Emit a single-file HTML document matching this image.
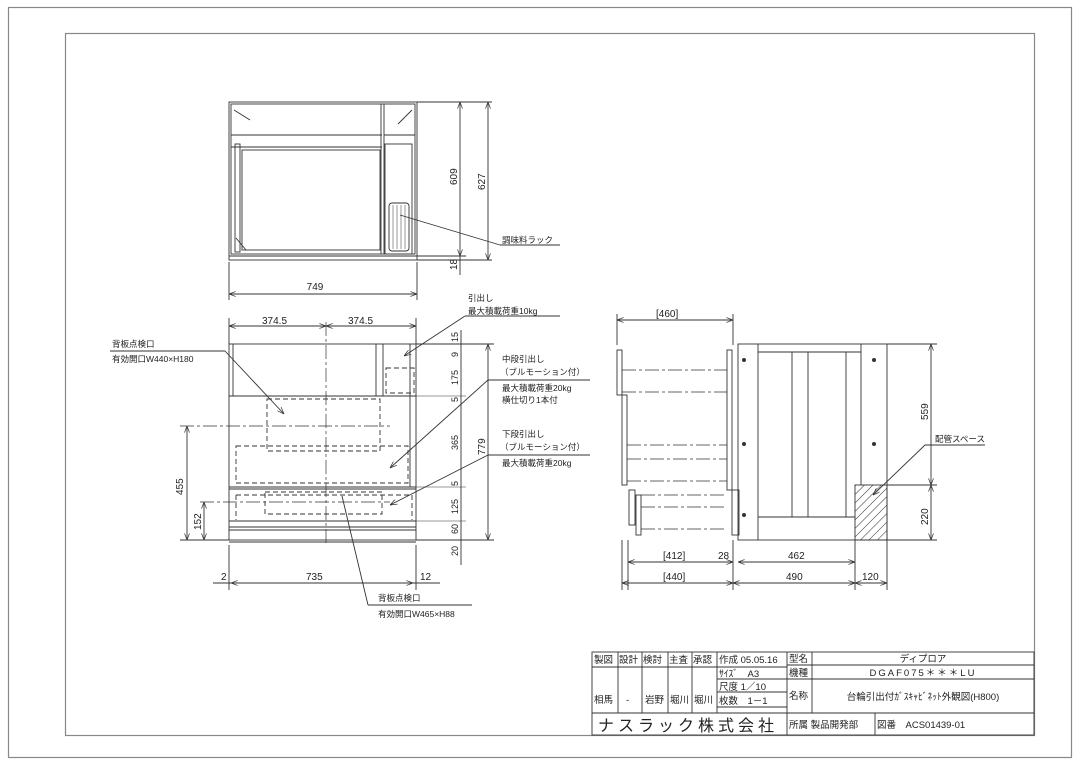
<!DOCTYPE html>
<html><head><meta charset="utf-8"><style>
html,body{margin:0;padding:0;background:#fff;}
svg{display:block;}
text{font-family:"Liberation Sans","Noto Sans CJK JP",sans-serif;fill:#222;}
</style></head><body>
<svg width="1080" height="764" viewBox="0 0 1080 764" xmlns="http://www.w3.org/2000/svg">
<defs>
<pattern id="h" width="6" height="6" patternUnits="userSpaceOnUse" patternTransform="rotate(45)"><line x1="0" y1="0" x2="0" y2="6" stroke="#333" stroke-width="1"/></pattern>
<marker id="a" markerWidth="8" markerHeight="6" refX="8" refY="3" orient="auto-start-reverse"><path d="M0,0 L8,3 L0,6" fill="none" stroke="#333" stroke-width="0.8"/></marker>
</defs>
<g fill="none" stroke="#888" stroke-width="1.2">
<rect x="8.5" y="7.5" width="1063" height="750"/>
<rect x="65.5" y="33.5" width="969" height="702"/>
</g>
<g fill="none" stroke="#333" stroke-width="0.9">
<rect x="229" y="102" width="188" height="158"/>
<rect x="231" y="104" width="184" height="150"/>
<line x1="231" y1="135" x2="382" y2="135"/><line x1="231" y1="147" x2="382" y2="147"/>
<line x1="381" y1="104" x2="381" y2="254"/><line x1="384" y1="104" x2="384" y2="254"/>
<line x1="384" y1="135" x2="415" y2="135"/>
<rect x="235" y="144" width="5" height="108"/>
<rect x="242" y="150" width="138" height="100"/>
<rect x="385" y="144" width="27" height="110"/>
<rect x="389" y="203" width="20" height="48" rx="3"/>
<g stroke-width="0.5"><line x1="393" y1="205" x2="393" y2="249"/><line x1="397" y1="205" x2="397" y2="249"/><line x1="401" y1="205" x2="401" y2="249"/><line x1="405" y1="205" x2="405" y2="249"/></g>
<line x1="229" y1="256" x2="417" y2="256"/>
<line x1="234" y1="110" x2="250" y2="120"/><line x1="412" y1="110" x2="398" y2="124"/><line x1="236" y1="238" x2="246" y2="250"/>
<line x1="400" y1="215" x2="500" y2="245"/><line x1="500" y1="245" x2="560" y2="245"/>
<line x1="417" y1="102" x2="492" y2="102"/><line x1="417" y1="256" x2="466" y2="256"/><line x1="417" y1="260" x2="492" y2="260"/>
<line x1="460" y1="102" x2="460" y2="256" marker-start="url(#a)" marker-end="url(#a)"/>
<line x1="488" y1="102" x2="488" y2="260" marker-start="url(#a)" marker-end="url(#a)"/>
<line x1="460" y1="256" x2="460" y2="275"/>
<line x1="229" y1="262" x2="229" y2="300"/><line x1="417" y1="262" x2="417" y2="300"/>
<line x1="229" y1="294" x2="417" y2="294" marker-start="url(#a)" marker-end="url(#a)"/>

<rect x="229" y="344" width="187" height="196"/>
<line x1="233" y1="344" x2="233" y2="396"/>
<line x1="376" y1="344" x2="376" y2="396"/><line x1="383" y1="344" x2="383" y2="396"/>
<line x1="229" y1="396" x2="416" y2="396"/>
<line x1="229" y1="487" x2="416" y2="487"/><line x1="229" y1="489" x2="416" y2="489"/>
<line x1="229" y1="521" x2="416" y2="521"/><line x1="229" y1="527" x2="416" y2="527"/><line x1="229" y1="530" x2="416" y2="530"/>
<line x1="229" y1="542" x2="416" y2="542"/>
<line x1="410" y1="344" x2="410" y2="487"/>
<g stroke-dasharray="5,3">
<rect x="267" y="399" width="113" height="52"/>
<rect x="236" y="446" width="172" height="37"/>
<rect x="265" y="492" width="117" height="22"/>
<rect x="386" y="368" width="28" height="25"/>
<line x1="236" y1="495" x2="412" y2="495"/><line x1="236" y1="495" x2="236" y2="520"/><line x1="412" y1="495" x2="412" y2="520"/>
</g>
<g stroke-dasharray="14,3,3,3" stroke-width="0.7">
<line x1="326" y1="322" x2="326" y2="545"/>
<line x1="180" y1="426" x2="390" y2="426"/>
<line x1="200" y1="502" x2="390" y2="502"/>
</g>
<line x1="229" y1="318" x2="229" y2="344"/><line x1="416" y1="318" x2="416" y2="344"/>
<line x1="229" y1="326" x2="326" y2="326" marker-start="url(#a)" marker-end="url(#a)"/>
<line x1="326" y1="326" x2="416" y2="326" marker-start="url(#a)" marker-end="url(#a)"/>
<line x1="187" y1="426" x2="187" y2="540" marker-start="url(#a)" marker-end="url(#a)"/>
<line x1="180" y1="540" x2="229" y2="540"/>
<line x1="204" y1="502" x2="204" y2="540" marker-start="url(#a)" marker-end="url(#a)"/>
<line x1="461" y1="330" x2="461" y2="565"/>
<line x1="416" y1="344" x2="494" y2="344"/><line x1="416" y1="540" x2="494" y2="540"/>
<line x1="488" y1="344" x2="488" y2="540" marker-start="url(#a)" marker-end="url(#a)"/>
<g stroke-width="0.6"><line x1="416" y1="396" x2="466" y2="396"/><line x1="416" y1="487" x2="466" y2="487"/><line x1="416" y1="521" x2="466" y2="521"/></g>
<line x1="229" y1="545" x2="229" y2="590"/><line x1="416" y1="545" x2="416" y2="590"/>
<line x1="213" y1="583" x2="440" y2="583"/>
<line x1="231" y1="583" x2="413" y2="583" marker-start="url(#a)" marker-end="url(#a)"/>
<line x1="110" y1="351" x2="225" y2="351"/><line x1="225" y1="351" x2="284" y2="414" marker-end="url(#a)"/>
<line x1="465" y1="316" x2="560" y2="316"/><line x1="465" y1="316" x2="404" y2="356" marker-end="url(#a)"/>
<line x1="488" y1="380" x2="590" y2="380"/><line x1="488" y1="380" x2="390" y2="468" marker-end="url(#a)"/>
<line x1="488" y1="455" x2="590" y2="455"/><line x1="488" y1="455" x2="390" y2="505" marker-end="url(#a)"/>
<line x1="342" y1="496" x2="368" y2="605"/><line x1="368" y1="605" x2="472" y2="605"/>

<rect x="738" y="344" width="149" height="196"/>
<line x1="758" y1="344" x2="758" y2="540"/><line x1="861" y1="344" x2="861" y2="485"/>
<line x1="758" y1="352" x2="861" y2="352"/><line x1="758" y1="517" x2="855" y2="517"/>
<line x1="792" y1="352" x2="792" y2="517"/><line x1="808" y1="352" x2="808" y2="517"/><line x1="846" y1="352" x2="846" y2="517"/>
<rect x="855" y="485" width="32" height="55" fill="url(#h)"/>
<rect x="727" y="350" width="5" height="140"/><rect x="732" y="490" width="7" height="45"/>
<rect x="617" y="350" width="5" height="45"/><rect x="622" y="395" width="5" height="90"/>
<rect x="629" y="490" width="6" height="35"/><rect x="636" y="495" width="5" height="40"/>
<g stroke-dasharray="14,3,3,3" stroke-width="0.7">
<line x1="622" y1="370" x2="727" y2="370"/><line x1="622" y1="392" x2="727" y2="392"/>
<line x1="627" y1="445" x2="727" y2="445"/><line x1="627" y1="459" x2="727" y2="459"/><line x1="627" y1="481" x2="727" y2="481"/>
<line x1="641" y1="495" x2="727" y2="495"/><line x1="641" y1="507" x2="727" y2="507"/><line x1="641" y1="529" x2="727" y2="529"/>
</g>
<line x1="617" y1="314" x2="617" y2="345"/><line x1="733" y1="314" x2="733" y2="345"/>
<line x1="617" y1="320" x2="733" y2="320" marker-start="url(#a)" marker-end="url(#a)"/>
<line x1="887" y1="344" x2="937" y2="344"/><line x1="887" y1="485" x2="937" y2="485"/><line x1="887" y1="540" x2="937" y2="540"/>
<line x1="931" y1="344" x2="931" y2="485" marker-start="url(#a)" marker-end="url(#a)"/>
<line x1="931" y1="485" x2="931" y2="540" marker-start="url(#a)" marker-end="url(#a)"/>
<line x1="925" y1="445" x2="985" y2="445"/><line x1="925" y1="445" x2="873" y2="495" marker-end="url(#a)"/>
<line x1="628" y1="540" x2="628" y2="590"/><line x1="622" y1="540" x2="622" y2="590"/>
<line x1="733" y1="540" x2="733" y2="590"/><line x1="855" y1="540" x2="855" y2="590"/><line x1="887" y1="540" x2="887" y2="590"/>
<line x1="628" y1="562" x2="733" y2="562" marker-start="url(#a)" marker-end="url(#a)"/>
<line x1="738" y1="562" x2="855" y2="562" marker-start="url(#a)" marker-end="url(#a)"/>
<line x1="622" y1="583" x2="733" y2="583" marker-start="url(#a)" marker-end="url(#a)"/>
<line x1="733" y1="583" x2="855" y2="583" marker-start="url(#a)" marker-end="url(#a)"/>
<line x1="855" y1="583" x2="887" y2="583" marker-start="url(#a)" marker-end="url(#a)"/>
</g>
<g fill="#333"><circle cx="744" cy="360" r="2"/><circle cx="744" cy="444" r="2"/><circle cx="744" cy="515" r="2"/><circle cx="874" cy="360" r="2"/><circle cx="874" cy="444" r="2"/></g>

<g font-size="10">
<text x="315" y="290" text-anchor="middle">749</text>
<text x="262" y="324">374.5</text><text x="348" y="324">374.5</text>
<text x="306" y="580">735</text><text x="221" y="580">2</text><text x="420" y="580">12</text>
<text x="656" y="317">[460]</text>
<text x="663" y="559">[412]</text><text x="718" y="559">28</text><text x="788" y="559">462</text>
<text x="663" y="580">[440]</text><text x="786" y="580">490</text><text x="862" y="580">120</text>
</g>
<g font-size="10">
<text transform="translate(457,185) rotate(-90)">609</text>
<text transform="translate(485,190) rotate(-90)">627</text>
<text transform="translate(457,270) rotate(-90)">18</text>
<text transform="translate(485,455) rotate(-90)">779</text>
<text transform="translate(183,495) rotate(-90)">455</text>
<text transform="translate(201,530) rotate(-90)">152</text>
<text transform="translate(928,420) rotate(-90)">559</text>
<text transform="translate(928,525) rotate(-90)">220</text>
<text transform="translate(458,342) rotate(-90)" font-size="9">15</text>
<text transform="translate(458,357) rotate(-90)" font-size="9">9</text>
<text transform="translate(458,385) rotate(-90)" font-size="9">175</text>
<text transform="translate(458,402) rotate(-90)" font-size="9">5</text>
<text transform="translate(458,450) rotate(-90)" font-size="9">365</text>
<text transform="translate(458,486) rotate(-90)" font-size="9">5</text>
<text transform="translate(458,514) rotate(-90)" font-size="9">125</text>
<text transform="translate(458,534) rotate(-90)" font-size="9">60</text>
<text transform="translate(458,556) rotate(-90)" font-size="9">20</text>
</g>
<g font-size="8.5">
<text x="502" y="243">調味料ラック</text>
<text x="468" y="301">引出し</text><text x="468" y="314">最大積載荷重10kg</text>
<text x="112" y="347">背板点検口</text><text x="112" y="362">有効開口W440×H180</text>
<text x="502" y="362">中段引出し</text><text x="500" y="375">（ブルモーション付）</text>
<text x="502" y="391">最大積載荷重20kg</text><text x="502" y="403">横仕切り1本付</text>
<text x="502" y="437">下段引出し</text><text x="500" y="450">（ブルモーション付）</text>
<text x="502" y="466">最大積載荷重20kg</text>
<text x="378" y="601">背板点検口</text><text x="378" y="617">有効開口W465×H88</text>
<text x="935" y="442">配管スペース</text>
</g>

<g fill="none" stroke="#333" stroke-width="0.9">
<rect x="592" y="652" width="442" height="83"/>
<line x1="592" y1="667" x2="787" y2="667"/>
<line x1="717" y1="679" x2="1034" y2="679"/>
<line x1="717" y1="692" x2="787" y2="692"/>
<line x1="717" y1="707" x2="787" y2="707"/>
<line x1="592" y1="713" x2="1034" y2="713"/>
<line x1="787" y1="665" x2="1034" y2="665"/>
<line x1="618" y1="652" x2="618" y2="713"/><line x1="642" y1="652" x2="642" y2="713"/>
<line x1="668" y1="652" x2="668" y2="713"/><line x1="692" y1="652" x2="692" y2="713"/>
<line x1="717" y1="652" x2="717" y2="713"/><line x1="787" y1="652" x2="787" y2="735"/>
<line x1="812" y1="652" x2="812" y2="713"/><line x1="875" y1="713" x2="875" y2="735"/>
</g>
<g font-size="9.5">
<text x="594" y="663">製図</text><text x="619" y="663">設計</text><text x="643" y="663">検討</text><text x="669" y="663">主査</text><text x="693" y="663">承認</text>
<text x="719" y="663">作成 05.05.16</text>
<text x="719" y="677">ｻｲｽﾞ　A3</text>
<text x="719" y="690">尺度 1／10</text>
<text x="719" y="704">枚数　1－1</text>
<text x="789" y="662">型名</text><text x="789" y="676">機種</text><text x="789" y="699">名称</text>
<text x="923" y="662" text-anchor="middle">ディプロア</text>
<text x="923" y="676" text-anchor="middle" letter-spacing="2">DGAF075＊＊＊LU</text>
<text x="923" y="700" text-anchor="middle">台輪引出付ｶﾞｽｷｬﾋﾞﾈｯﾄ外観図(H800)</text>
<text x="594" y="703">相馬</text><text x="626" y="703">-</text><text x="645" y="703">岩野</text><text x="670" y="703">堀川</text><text x="694" y="703">堀川</text>
<text x="789" y="728">所属 製品開発部</text><text x="877" y="728">図番　ACS01439-01</text>
</g>
<text x="598" y="731" font-size="16" letter-spacing="4">ナスラック株式会社</text>
</svg>
</body></html>
